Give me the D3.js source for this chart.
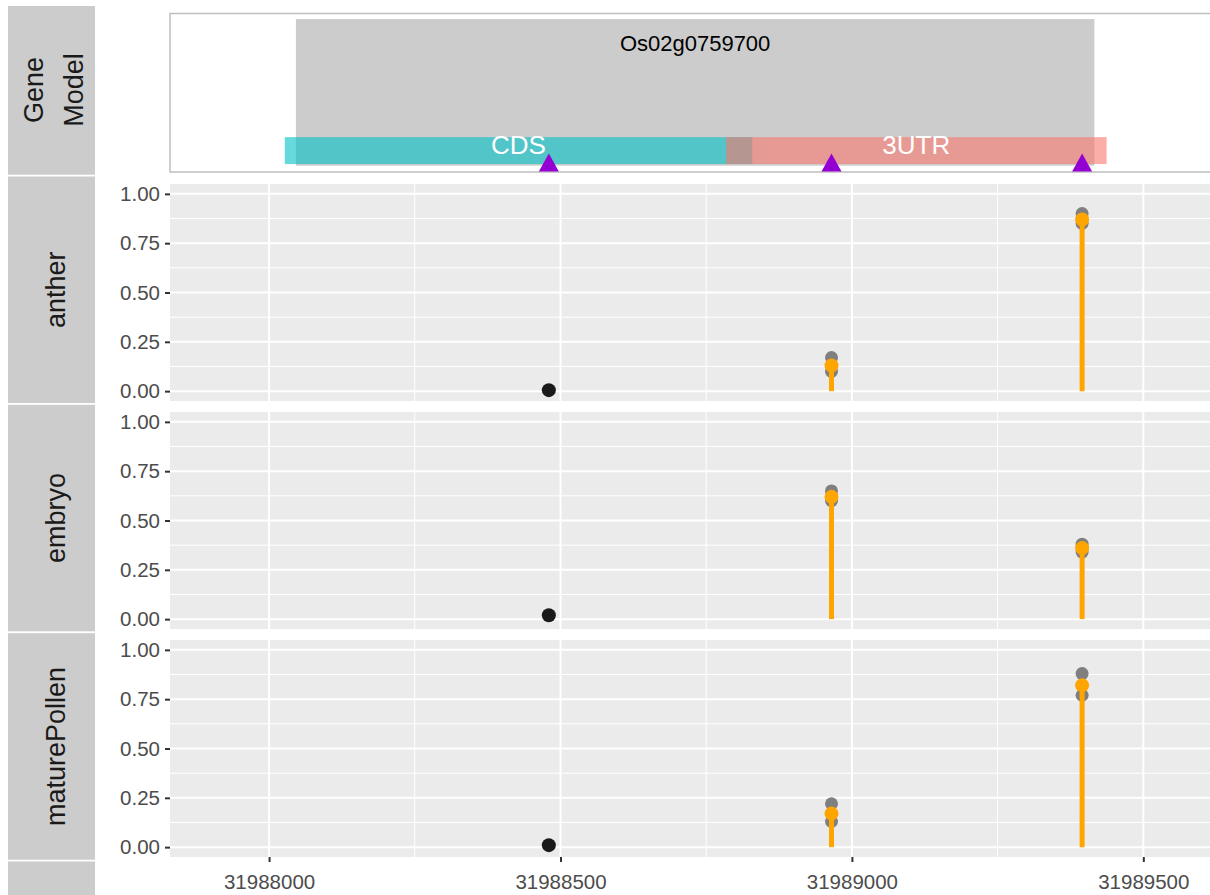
<!DOCTYPE html>
<html>
<head>
<meta charset="utf-8">
<script src="https://cdn.jsdelivr.net/npm/d3@7"></script>
<style>
  html, body { margin: 0; padding: 0; background: #ffffff; }
  svg { display: block; font-family: "Liberation Sans", Arial, Helvetica, sans-serif; }
</style>
</head>
<body>
<svg id="chart" width="1210" height="895"></svg>
<script>
// ---- data ----------------------------------------------------------
const tissues = ["anther", "embryo", "maturePollen"];

// genomic coordinates of the three poly(A) sites
const siteCoords = [31988480, 31988965, 31989395];

// per-tissue usage at each site: replicate values (grey) and mean (orange)
const replicateValues = {
  anther:       [[0.005], [0.17, 0.10], [0.90, 0.85]],
  embryo:       [[0.02],  [0.65, 0.60], [0.38, 0.34]],
  maturePollen: [[0.01],  [0.22, 0.13], [0.88, 0.77]]
};
const meanValues = {
  anther:       [0.005, 0.13, 0.87],
  embryo:       [0.02,  0.62, 0.36],
  maturePollen: [0.01,  0.17, 0.82]
};

// gene model
const geneName = "Os02g0759700";
const geneStart = 31988046, geneEnd = 31989416;
const featureNames  = ["CDS", "3UTR"];
const featureStarts = [31988027, 31988784];
const featureEnds   = [31988829, 31989437];
const featureColors = ["#00BFC4", "#F8766D"];

const xTicks = [31988000, 31988500, 31989000, 31989500];
const xMinorTicks = [31987750, 31988250, 31988750, 31989250, 31989750];
const yTicks = [0, 0.25, 0.5, 0.75, 1];
const yMinorTicks = [0.125, 0.375, 0.625, 0.875];
const xDomain = [31987830, 31989623];

// ---- layout --------------------------------------------------------
const svg = d3.select("#chart");
const panelLeft = 170, panelRight = 1215;
const stripLeft = 8, stripRight = 95;
const panelTops = [184, 412, 640];
const panelH = 217;
const stripTops = [176.5, 404.8, 633.2, 861.5];
const stripH = 226.5;
const geneTop = 13.5, geneBottom = 172;

const x = d3.scaleLinear().domain(xDomain).range([panelLeft, panelRight]);

const textCol = "#4D4D4D", stripCol = "#CCCCCC", stripText = "#1A1A1A";
const tickFont = 20.5, stripFont = 27;

svg.append("defs").append("clipPath").attr("id", "plotClip")
  .append("rect").attr("x", 0).attr("y", 0).attr("width", 1210).attr("height", 895);

// ---- gene model track ---------------------------------------------
svg.append("rect").attr("x", stripLeft).attr("y", 6)
  .attr("width", stripRight - stripLeft).attr("height", 174.7 - 6).attr("fill", stripCol);
const geneStripText = svg.append("text")
  .attr("transform", `translate(0,90) rotate(-90)`)
  .attr("text-anchor", "middle").attr("fill", stripText).attr("font-size", stripFont);
geneStripText.append("tspan").attr("x", 0).attr("y", 42.5).text("Gene");
geneStripText.append("tspan").attr("x", 0).attr("y", 82.5).text("Model");

svg.append("rect").attr("x", panelLeft).attr("y", geneTop)
  .attr("width", panelRight - panelLeft).attr("height", geneBottom - geneTop)
  .attr("fill", "#ffffff").attr("stroke", "#BEBEBE").attr("stroke-width", 1.5);

const yG = d3.scaleLinear().domain([0, 1]).range([geneBottom, geneTop]);

svg.append("rect")
  .attr("x", x(geneStart)).attr("width", x(geneEnd) - x(geneStart))
  .attr("y", yG(0.965)).attr("height", yG(0.04) - yG(0.965))
  .attr("fill", "#CCCCCC");
svg.append("text").attr("x", (x(geneStart) + x(geneEnd)) / 2).attr("y", yG(0.815))
  .attr("dy", "0.36em").attr("text-anchor", "middle")
  .attr("font-size", 22).attr("fill", "#000000").text(geneName);

featureNames.forEach((name, i) => {
  svg.append("rect")
    .attr("x", x(featureStarts[i])).attr("width", x(featureEnds[i]) - x(featureStarts[i]))
    .attr("y", yG(0.22)).attr("height", yG(0.05) - yG(0.22))
    .attr("fill", featureColors[i]).attr("fill-opacity", 0.6);
});
featureNames.forEach((name, i) => {
  svg.append("text")
    .attr("x", (x(featureStarts[i]) + x(featureEnds[i])) / 2).attr("y", yG(0.17))
    .attr("dy", "0.36em").attr("text-anchor", "middle")
    .attr("font-size", 26).attr("fill", "#ffffff").text(name);
});

const triH = 18, triW = 20;
siteCoords.forEach(s => {
  const cx = x(s), base = yG(0) - 0.5;
  svg.append("path")
    .attr("d", `M${cx - triW / 2},${base}L${cx + triW / 2},${base}L${cx},${base - triH}Z`)
    .attr("fill", "#9400D3");
});

// ---- tissue panels -------------------------------------------------
tissues.forEach((tissue, ti) => {
  const top = panelTops[ti];
  const y = d3.scaleLinear().domain([-0.05, 1.05]).range([top + panelH, top]);

  // strip
  svg.append("rect").attr("x", stripLeft).attr("y", stripTops[ti])
    .attr("width", stripRight - stripLeft).attr("height", stripH).attr("fill", stripCol);
  svg.append("text")
    .attr("transform", `translate(55,${stripTops[ti] + stripH / 2}) rotate(-90)`)
    .attr("text-anchor", "middle").attr("dy", "0.36em")
    .attr("fill", stripText).attr("font-size", stripFont).text(tissue);

  const g = svg.append("g").attr("clip-path", "url(#plotClip)");
  g.append("rect").attr("x", panelLeft).attr("y", top)
    .attr("width", panelRight - panelLeft).attr("height", panelH).attr("fill", "#EBEBEB");

  // grid
  g.selectAll(null).data(yMinorTicks).join("line")
    .attr("x1", panelLeft).attr("x2", panelRight)
    .attr("y1", d => y(d)).attr("y2", d => y(d))
    .attr("stroke", "#ffffff").attr("stroke-width", 1);
  g.selectAll(null).data(xMinorTicks).join("line")
    .attr("x1", d => x(d)).attr("x2", d => x(d))
    .attr("y1", top).attr("y2", top + panelH)
    .attr("stroke", "#ffffff").attr("stroke-width", 1);
  g.selectAll(null).data(yTicks).join("line")
    .attr("x1", panelLeft).attr("x2", panelRight)
    .attr("y1", d => y(d)).attr("y2", d => y(d))
    .attr("stroke", "#ffffff").attr("stroke-width", 2);
  g.selectAll(null).data(xTicks).join("line")
    .attr("x1", d => x(d)).attr("x2", d => x(d))
    .attr("y1", top).attr("y2", top + panelH)
    .attr("stroke", "#ffffff").attr("stroke-width", 2);

  // y axis
  const ax = svg.append("g").attr("transform", `translate(${panelLeft},0)`)
    .call(d3.axisLeft(y).tickValues(yTicks).tickFormat(d3.format(".2f")).tickSize(5).tickPadding(5));
  ax.select(".domain").remove();
  ax.selectAll(".tick line").attr("stroke", "#333333").attr("stroke-width", 2);
  ax.selectAll(".tick text").attr("fill", textCol).attr("font-size", tickFont)
    .attr("font-family", "Liberation Sans, Arial, sans-serif");

  // replicate points
  const reps = [];
  replicateValues[tissue].forEach((vals, si) => {
    if (si === 0) return;
    vals.forEach(v => reps.push({ s: siteCoords[si], v }));
  });
  g.selectAll(null).data(reps).join("circle")
    .attr("cx", d => x(d.s)).attr("cy", d => y(d.v)).attr("r", 6.5)
    .attr("fill", "#7F7F7F");

  // lollipop stems and means for the expressed sites
  const means = meanValues[tissue].map((v, si) => ({ s: siteCoords[si], v, si }));
  const used = means.filter(d => d.si > 0);
  g.selectAll(null).data(used).join("line")
    .attr("x1", d => x(d.s)).attr("x2", d => x(d.s))
    .attr("y1", y(0)).attr("y2", d => y(d.v))
    .attr("stroke", "#FFA500").attr("stroke-width", 5);
  g.selectAll(null).data(used).join("circle")
    .attr("cx", d => x(d.s)).attr("cy", d => y(d.v)).attr("r", 7)
    .attr("fill", "#FFA500");

  // unused site
  g.selectAll(null).data(means.filter(d => d.si === 0)).join("circle")
    .attr("cx", d => x(d.s)).attr("cy", d => y(d.v)).attr("r", 7)
    .attr("fill", "#1A1A1A");
});

// trailing strip below the last panel
svg.append("rect").attr("x", stripLeft).attr("y", stripTops[3])
  .attr("width", stripRight - stripLeft).attr("height", stripH).attr("fill", stripCol);

// ---- x axis --------------------------------------------------------
const xb = panelTops[2] + panelH;
const xa = svg.append("g").attr("transform", `translate(0,${xb})`)
  .call(d3.axisBottom(x).tickValues(xTicks).tickFormat(d3.format("d")).tickSize(5).tickPadding(12));
xa.select(".domain").remove();
xa.selectAll(".tick line").attr("stroke", "#333333").attr("stroke-width", 2);
xa.selectAll(".tick text").attr("fill", textCol).attr("font-size", tickFont)
  .attr("font-family", "Liberation Sans, Arial, sans-serif");
</script>
</body>
</html>
